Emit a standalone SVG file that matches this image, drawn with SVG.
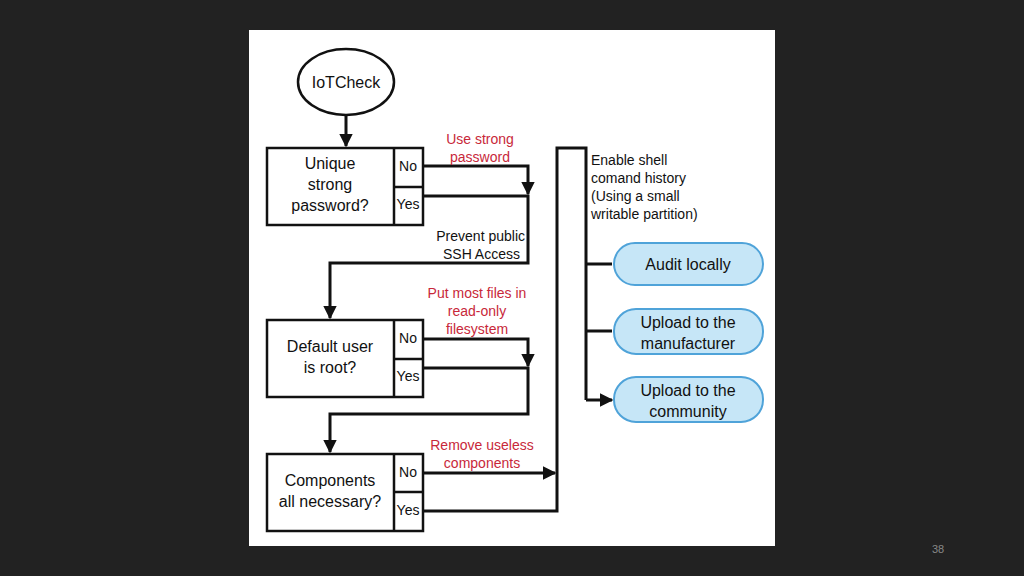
<svg xmlns="http://www.w3.org/2000/svg" width="1024" height="576" viewBox="0 0 1024 576">
<style>
text{font-family:"Liberation Sans",Arial,sans-serif;font-size:16px;fill:#111}
.t{text-anchor:middle}
.s{font-size:14px}
.r{fill:#c8283a;font-size:14px;text-anchor:middle}
.b{fill:#fff;stroke:#111;stroke-width:2.5}
.o{fill:#c6e6f7;stroke:#4fa3d9;stroke-width:2}
.c{fill:none;stroke:#111;stroke-width:3}
</style>
<defs><marker id="a" viewBox="0 0 10 10" refX="9" refY="5" markerWidth="4.5" markerHeight="4.5" orient="auto" markerUnits="strokeWidth"><path d="M0,0L10,5L0,10z" fill="#111"/></marker></defs>
<rect width="1024" height="576" fill="#222"/>
<rect x="249" y="30" width="526" height="516" fill="#fff"/>
<text x="938" y="553" class="t" style="font-size:11px;fill:#888">38</text>
<g id="start"><ellipse cx="346" cy="82" rx="48" ry="33" class="b"/><text x="346" y="88" class="t">IoTCheck</text></g>
<g id="q1"><rect x="267" y="148" width="156" height="77" class="b"/><path d="M394,148V225M394,187H423" class="b"/>
<text x="330" y="169" class="t">Unique</text><text x="330" y="190" class="t">strong</text><text x="330" y="211" class="t">password?</text>
<text x="408" y="171" class="t s">No</text><text x="408" y="209" class="t s">Yes</text></g>
<g id="q2"><rect x="267" y="320" width="156" height="77" class="b"/><path d="M394,320V397M394,359H423" class="b"/>
<text x="330" y="352" class="t">Default user</text><text x="330" y="373" class="t">is root?</text>
<text x="408" y="343" class="t s">No</text><text x="408" y="381" class="t s">Yes</text></g>
<g id="q3"><rect x="267" y="454" width="156" height="77" class="b"/><path d="M394,454V531M394,492H423" class="b"/>
<text x="330" y="486" class="t">Components</text><text x="330" y="507" class="t">all necessary?</text>
<text x="408" y="477" class="t s">No</text><text x="408" y="515" class="t s">Yes</text></g>
<g id="e1"><rect x="614" y="243" width="149" height="42" rx="21" class="o"/><text x="688" y="270" class="t">Audit locally</text></g>
<g id="e2"><rect x="614" y="309" width="149" height="45" rx="22" class="o"/><text x="688" y="328" class="t">Upload to the</text><text x="688" y="349" class="t">manufacturer</text></g>
<g id="e3"><rect x="614" y="377" width="149" height="45" rx="22" class="o"/><text x="688" y="396" class="t">Upload to the</text><text x="688" y="417" class="t">community</text></g>
<g id="connectors">
<path d="M346,115V146" class="c" marker-end="url(#a)"/>
<path d="M423,166H528V194" class="c" marker-end="url(#a)"/>
<path d="M423,196H528V263H330V318" class="c" marker-end="url(#a)"/>
<path d="M423,339H528V366" class="c" marker-end="url(#a)"/>
<path d="M423,368H528V414H330V452" class="c" marker-end="url(#a)"/>
<path d="M423,473H555" class="c" marker-end="url(#a)"/>
<path d="M423,511H557V148H586V400" class="c"/>
<path d="M586,264H612M586,331H612M586,400H612" class="c" marker-end="url(#a)"/>
<text x="480" y="144" class="r">Use strong</text><text x="480" y="162" class="r">password</text>
<text x="525" y="241" class="s" text-anchor="end">Prevent public</text><text x="520" y="259" class="s" text-anchor="end">SSH Access</text>
<text x="477" y="298" class="r">Put most files in</text><text x="477" y="316" class="r">read-only</text><text x="477" y="334" class="r">filesystem</text>
<text x="482" y="450" class="r">Remove useless</text><text x="482" y="468" class="r">components</text>
<text x="591" y="165" class="s">Enable shell</text><text x="591" y="183" class="s">comand history</text><text x="591" y="201" class="s">(Using a small</text><text x="591" y="219" class="s">writable partition)</text>
</g>
</svg>
